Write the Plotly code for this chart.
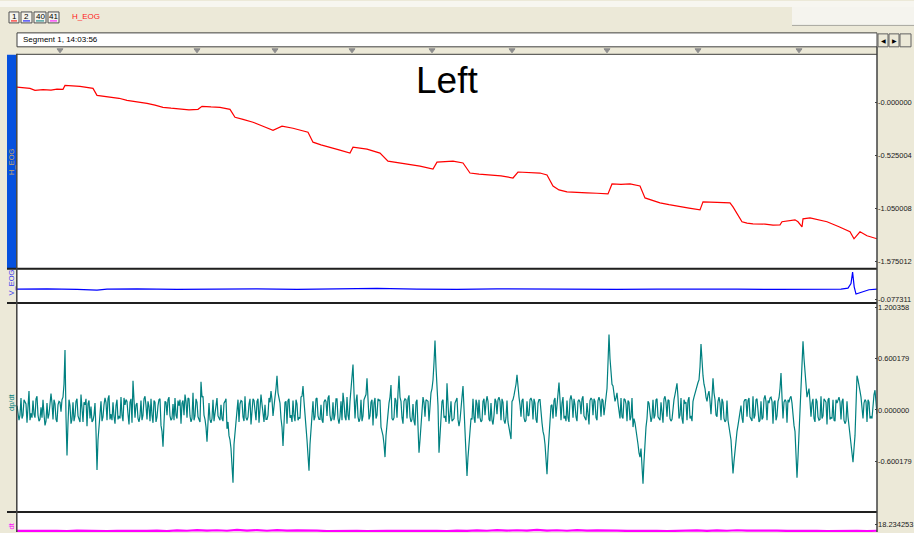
import numpy as np
import plotly.graph_objects as go

W, H = 914, 533
def px(x): return x / W
def py(y): return 1 - y / H

# ---------------- data ----------------
h_t = [0.0,0.65,0.9,1.3,1.7,2.0,2.3,2.4,3.15,3.8, 4.0,4.8,5.1,5.5,6.0,6.5,6.9,7.3,7.7,8.15,
       8.6,9.05,9.25,9.7,10.15,10.65,10.9,11.3,11.8,12.3, 12.8,13.25,13.8,14.55,14.8,15.2,15.65,16.1,16.65,16.8,
       17.5,18.15,18.55,19.15,19.6,20.15,20.8,21.0,21.4,21.8, 22.3,22.65,23.1,23.65,24.2,24.8,25.05,26.15,26.5,26.8,
       27.1,27.5,28.0,28.5,29.0,29.55,29.75,30.2,30.65,31.15, 31.4,31.8,32.15,32.6,33.15,33.6,34.15,34.3,35.0,35.65,
       35.8,36.25,36.5,36.8,37.4,37.8,38.15,38.25,38.9,39.05, 39.25,39.3,39.65,40.1,40.5,41.1,41.65,41.85,42.15,42.5,
       43.0]
h_v = [0.151,0.138,0.118,0.125,0.120,0.130,0.128,0.167,0.157,0.138, 0.069,0.049,0.040,0.020,0.008,-0.010,-0.028,-0.049,-0.058,-0.069,
       -0.074,-0.069,-0.039,-0.045,-0.049,-0.069,-0.148,-0.168,-0.197,-0.236, -0.276,-0.236,-0.256,-0.295,-0.394,-0.420,-0.443,-0.470,-0.502,-0.443,
       -0.463,-0.502,-0.581,-0.600,-0.611,-0.630,-0.660,-0.591,-0.586,-0.581, -0.600,-0.699,-0.709,-0.719,-0.728,-0.748,-0.689,-0.699,-0.719,-0.827,
       -0.866,-0.886,-0.893,-0.896,-0.899,-0.906,-0.807,-0.812,-0.807,-0.827, -0.945,-0.975,-0.994,-1.012,-1.034,-1.046,-1.063,-0.984,-0.990,-0.994,
       -1.034,-1.181,-1.195,-1.201,-1.204,-1.214,-1.211,-1.181,-1.162,-1.181, -1.231,-1.152,-1.142,-1.160,-1.181,-1.230,-1.280,-1.349,-1.280,-1.319,
       -1.349]

v_t = [0,1.5,3,4,4.5,6,8,10,12,14,16,18,20,22,24,26,28,30,32,34,36,38,40,41.2,41.55,41.7,41.78,41.86,41.95,42.05,42.3,42.6,43]
v_v = [-0.047,-0.046,-0.048,-0.050,-0.047,-0.046,-0.048,-0.047,-0.046,-0.048,-0.047,-0.045,-0.047,-0.048,-0.046,-0.047,-0.046,-0.048,-0.047,-0.046,
       -0.047,-0.048,-0.046,-0.047,-0.044,-0.030,0.004,-0.040,-0.062,-0.060,-0.055,-0.049,-0.047]

# dp/dt samples every 0.1 s ...
dpdt_main = [
 .05,-.12,.14,-.06,.09,-.15,.22,-.04,.11,-.09,
 .16,-.13,.03,.12,-.18,.08,-.05,.19,-.11,.07,
 -.14,.10,-.02,.15,.70,-.53,.12,-.16,.09,-.07,
 .13,-.10,.18,-.14,.06,-.19,.11,.04,-.12,.08,
 -.70,-.20,.10,-.08,.14,-.12,.17,-.05,.09,-.16,
 .12,-.07,.15,-.13,.06,.10,-.17,.13,.34,-.09,
 .08,-.14,.11,-.06,.16,-.11,.04,.13,-.15,.09,
 -.08,.12,-.18,-.43,.10,-.06,.15,-.12,.07,.14,
 -.10,.05,-.16,.11,.18,-.09,.13,-.14,.20,-.07,
 .09,-.12,.33,.16,-.11,-.37,.08,-.15,.12,-.05,
 .14,-.10,.06,-.13,.10,-.22,-.30,-.45,-.85,-.25,
 .05,-.14,.11,-.08,.16,-.12,.07,-.17,.13,-.04,
 .10,-.15,.18,-.09,.06,-.11,.14,.22,-.07,.15,
 .40,.12,-.10,-.42,.09,-.16,.13,-.06,.11,-.13,
 .07,-.09,.15,.28,-.12,-.35,-.71,-.20,.10,-.08,
 .14,-.11,.06,-.15,.12,-.07,.17,-.13,.09,-.05,
 .13,-.16,.10,.20,-.08,.15,-.12,.25,.53,-.10,
 .18,-.14,.12,-.07,.16,.37,-.11,.09,-.18,.14,
 -.06,.11,-.20,-.30,-.55,-.15,.08,.29,-.12,.14,
 -.09,.40,.10,-.16,.13,-.10,.17,-.14,.07,-.18,
 .12,-.50,-.20,.15,-.08,.11,-.13,.20,.35,.81,
 .30,-.50,-.10,.12,-.07,.31,-.16,.10,-.12,.08,
 .14,-.19,.09,.28,-.30,-.77,-.35,-.10,.13,-.15,
 .07,.12,-.14,.10,-.06,.16,-.11,.08,-.17,.13,
 -.05,.15,-.12,.09,-.16,.11,-.20,-.34,.12,.22,
 .41,.15,-.08,.13,-.14,.10,-.06,.14,-.11,.08,
 -.15,.12,-.09,-.25,-.40,-.75,-.28,.05,-.10,.14,
 .09,.32,-.12,.15,-.07,.11,-.14,.17,-.09,.06,
 -.13,.12,-.05,.16,-.11,.08,-.17,.14,-.06,.10,
 -.12,.15,-.08,.11,.05,.25,.88,.40,.28,.10,
 .20,-.06,.14,-.10,.12,-.13,.09,-.08,-.20,-.15,
 -.30,-.50,-.45,-.86,-.30,-.10,.08,-.14,.12,-.06,
 .13,-.11,.09,-.15,.16,-.08,.11,-.13,.07,.18,
 .31,-.10,.14,-.16,.08,-.12,.15,-.07,.10,.20,
 .30,.35,.77,.40,.25,.10,.22,-.05,.37,.12,
 -.08,.15,-.12,.09,-.14,.11,-.20,-.35,-.74,-.45,
 -.25,-.10,.05,-.15,.12,-.08,.14,-.11,.16,-.06,
 .13,-.14,.10,-.09,.17,-.12,.08,.15,-.16,.11,
 -.07,.14,.43,-.10,.12,-.15,.09,.16,-.11,-.25,
 -.79,-.30,.30,.80,.45,.15,.25,-.08,.13,-.14,
 .10,-.12,.16,-.07,.11,-.17,.14,-.09,.12,-.13,
 .08,.15,-.11,.13,-.16,.10,-.20,-.35,-.61,-.30,
 .40,.30,.15,-.10,.12,-.14,.09,-.08,.11,.23,
 -.05]
# ... and the samples half-way between them
dpdt_half = [
 -.08,-.06,-.10,.12,.07,.10,-.12,-.09,-.05,.13,
 -.06,-.11,-.09,-.05,-.13,-.10,.07,.08,.12,-.11,
 .06,.09,.12,.30,-.08,-.15,.05,-.11,-.13,.10,
 -.07,-.14,-.05,.09,.13,.07,-.10,-.14,-.06,-.25,
 -.35,-.08,-.13,.06,.09,.13,-.11,-.12,-.08,.05,
 -.11,-.10,-.06,.14,.12,-.05,.09,-.15,.12,.06,
 -.10,-.07,-.12,.13,.05,.10,-.13,-.06,.11,-.14,
 .05,.13,-.25,-.15,.09,.12,-.07,-.10,-.12,-.06,
 .11,.12,.08,-.06,.10,.14,-.07,-.10,-.12,.13,
 -.08,-.14,.15,-.06,-.20,-.10,-.11,-.10,-.13,.09,
 -.07,-.12,-.10,.08,.13,-.14,-.35,-.60,-.40,-.08,
 .12,.07,.10,-.13,-.09,-.08,.13,.06,.11,-.12,
 .13,.08,.07,-.14,-.11,-.06,.09,.12,.10,.25,
 .20,.08,-.20,-.15,.10,.11,-.09,-.14,-.07,.12,
 -.12,-.10,.16,.10,-.20,-.50,-.40,.05,-.12,.13,
 -.07,-.11,-.12,.09,.10,.14,-.06,-.10,-.12,.13,
 -.10,-.08,-.12,.09,-.12,-.06,.10,.35,.20,.10,
 -.08,-.10,-.13,.12,.18,.10,-.07,.12,.08,-.10,
 .13,.12,-.25,-.40,-.30,-.05,.15,-.10,-.09,.11,
 .20,.15,-.09,.10,.12,.13,-.08,-.11,-.13,.09,
 -.20,-.35,-.05,.09,.12,.10,.06,.25,.55,.50,
 .05,-.25,.10,-.09,-.14,.10,-.06,-.13,-.10,.12,
 -.11,-.12,.15,.05,-.50,-.55,-.20,-.11,-.09,.12,
 -.10,-.09,-.12,.13,.08,.10,-.13,-.12,-.06,.10,
 .12,.10,.13,-.12,-.09,-.14,-.25,.10,.17,.30,
 .25,.06,.11,-.09,-.12,-.07,.12,.10,.13,-.11,
 .08,.12,-.15,-.30,-.55,-.50,-.10,.06,.11,-.08,
 .18,.12,.08,-.10,-.13,-.09,.12,.11,.13,-.08,
 .10,.09,.13,-.07,-.12,-.10,.11,.12,.13,-.09,
 .11,.10,.13,-.06,.15,.55,.60,.30,.18,.14,
 .08,-.10,-.08,.13,.07,.11,-.12,.14,-.10,-.22,
 -.40,-.55,-.65,-.60,-.20,.10,-.06,-.09,-.10,.12,
 -.08,-.12,-.10,.13,.09,.12,-.10,-.11,.12,.25,
 .15,-.06,-.10,.12,.09,.11,-.10,-.13,.15,.25,
 .32,.50,.55,.30,.15,.18,.10,.15,.20,-.06,
 .10,.08,.13,-.10,-.12,-.12,-.28,-.55,-.60,-.35,
 -.18,-.08,-.09,.10,.12,.11,-.08,-.13,-.10,.12,
 -.08,-.12,-.11,.13,.10,.11,.14,.10,.09,-.12,
 .10,.25,.15,.09,.10,.12,.14,.08,-.18,-.50,
 -.55,-.05,.55,.60,.30,.20,.10,.08,-.10,.13,
 -.08,-.11,-.10,.13,.09,.12,-.11,-.10,-.12,.12,
 .12,.09,.10,-.12,-.13,-.08,-.25,-.50,-.45,.05,
 .35,.22,.05,.08,.10,.12,-.10,-.10,.18,.10]
dpdt_v = np.empty(len(dpdt_main) + len(dpdt_half))
dpdt_v[0::2] = dpdt_main
dpdt_v[1::2] = dpdt_half
dpdt_t = np.round(np.arange(len(dpdt_v)) * 0.05, 3)

dt_v = [11.4,11.2,11.6,11.3,11.5,11.1,11.6,11.3,11.7,11.2,
        11.5,11.3,11.8,11.4,11.6,11.2,11.9,11.5,12.2,11.6,
        12.0,11.5,12.3,11.7,12.1,11.5,12.2,11.6,11.9,11.4,
        11.6,11.2,11.5,11.3,11.5,11.2,11.6,11.3,11.4,11.2,
        11.5,11.3,11.5,11.2,11.7,11.4,11.9,11.5,12.2,11.6,
        12.0,11.6,12.3,11.7,12.0,11.5,12.1,11.6,11.9,11.4,
        11.6,11.3,11.5,11.2,11.5,11.2,11.6,11.4,11.8,11.4,
        11.9,11.5,12.0,11.6,11.8,11.4,11.7,11.3,11.6,11.2,
        11.5,11.2,11.5,11.3,11.4,11.2,11.5]
dt_t = np.round(np.arange(len(dt_v)) * 0.5, 2)

marker_t = [2.15, 9.0, 12.9, 16.75, 20.75, 24.75, 29.5, 34.05, 39.1]

h_ticks = [0.0, -0.525004, -1.050008, -1.575012]
h_ticktext = ["-0.000000", "-0.525004", "-1.050008", "-1.575012"]
v_ticks = [-0.077311]
v_ticktext = ["-0.077311"]
d_ticks = [1.200358, 0.600179, 0.0, -0.600179]
d_ticktext = ["1.200358", "0.600179", "0.000000", "-0.600179"]
t_ticks = [18.234253]
t_ticktext = ["18.234253"]

buttons = ["1", "2", "40", "41"]
button_colors = ["#FF0000", "#0000FF", "#008080", "#FF00FF"]
channel_names = ["H_EOG", "V_EOG", "dp/dt", "dt"]

# ---------------- figure ----------------
fig = go.Figure()
fig.add_trace(go.Scatter(x=h_t, y=h_v, mode="lines", line=dict(color="#FF0000", width=1.2), xaxis="x", yaxis="y", hoverinfo="skip"))
fig.add_trace(go.Scatter(x=v_t, y=v_v, mode="lines", line=dict(color="#0000FF", width=1.2), xaxis="x2", yaxis="y2", hoverinfo="skip"))
fig.add_trace(go.Scatter(x=dpdt_t, y=dpdt_v, mode="lines", line=dict(color="#008080", width=1.2), xaxis="x3", yaxis="y3", hoverinfo="skip"))
fig.add_trace(go.Scatter(x=dt_t, y=dt_v, mode="lines", line=dict(color="#FF00FF", width=2.2), xaxis="x4", yaxis="y4", hoverinfo="skip"))

xdom = [px(17), px(877)]
xcommon = dict(domain=xdom, range=[0, 43], showticklabels=False, showgrid=False, zeroline=False, ticks="", showline=False)
tickfont = dict(family="Liberation Sans, Arial", size=7.5, color="#202020")
ycommon = dict(side="right", showgrid=False, zeroline=False, ticks="inside", ticklen=2, tickcolor="#404040",
               tickfont=tickfont, showline=False, tickmode="array")

layout = dict(
    width=W, height=H, margin=dict(l=0, r=0, t=0, b=0),
    paper_bgcolor="#ECE9D8", plot_bgcolor="#FFFFFF", showlegend=False,
    xaxis=dict(**xcommon, anchor="y"),
    xaxis2=dict(**xcommon, anchor="y2", matches="x"),
    xaxis3=dict(**xcommon, anchor="y3", matches="x"),
    xaxis4=dict(**xcommon, anchor="y4", matches="x"),
    yaxis=dict(**ycommon, domain=[py(268), py(54)], range=[-1.638, 0.470], anchor="x", tickvals=h_ticks, ticktext=h_ticktext),
    yaxis2=dict(**ycommon, domain=[py(303), py(270)], range=[-0.0884, 0.0106], anchor="x2", tickvals=v_ticks, ticktext=v_ticktext),
    yaxis3=dict(**ycommon, domain=[py(512), py(304)], range=[-1.180, 1.238], anchor="x3", tickvals=d_ticks, ticktext=d_ticktext),
    yaxis4=dict(**ycommon, domain=[py(533), py(514)], range=[10.234, 29.234], anchor="x4", tickvals=t_ticks, ticktext=t_ticktext),
)
fig.update_layout(**layout)

shapes = []
ann = []
def rect(x0, y0, x1, y1, fill, line="rgba(0,0,0,0)", lw=0, layer="below"):
    shapes.append(dict(type="rect", xref="paper", yref="paper", x0=px(x0), x1=px(x1), y0=py(y1), y1=py(y0),
                       fillcolor=fill, line=dict(color=line, width=lw), layer=layer))
def hline(x0, x1, y, color, w):
    shapes.append(dict(type="line", xref="paper", yref="paper", x0=px(x0), x1=px(x1), y0=py(y), y1=py(y),
                       line=dict(color=color, width=w), layer="above"))
def vline(x, y0, y1, color, w):
    shapes.append(dict(type="line", xref="paper", yref="paper", x0=px(x), x1=px(x), y0=py(y0), y1=py(y1),
                       line=dict(color=color, width=w), layer="above"))
def text(x, y, s, size=8, color="#000000", angle=0, xanchor="left", family="Liberation Sans, Arial"):
    ann.append(dict(x=px(x), y=py(y), xref="paper", yref="paper", text=s, showarrow=False, textangle=angle,
                    font=dict(family=family, size=size, color=color), xanchor=xanchor, yanchor="middle"))

# top strip
rect(0, 0, 914, 6, "#F7F6F0")
rect(792, 6, 914, 24, "#F5F4EE")
hline(792, 914, 24.5, "#A8A8A0", 1)

# toolbar buttons
bx = [(9, 19), (21, 32), (34, 46), (48, 59)]
for (a, b), lab, c in zip(bx, buttons, button_colors):
    rect(a, 11, b, 22, "#F4F3EC", "#505050", 1, layer="above")
    text((a + b) / 2, 15.5, lab, 8, "#000000", xanchor="center")
    hline(a + 2, b - 2, 20, c, 1)
text(70, 15.5, channel_names[0], 8, "#FF2020")

# segment box and nav buttons
rect(17, 32, 877, 46, "#FFFFFF", "#404040", 1, layer="above")
text(21, 39, "Segment 1, 14:03:56", 8, "#000000")
for a, b, s in [(878, 888, "◀"), (889, 899, "▶"), (900, 911, "")]:
    rect(a, 33, b, 46, "#ECE9D8", "#606060", 1, layer="above")
    if s:
        text((a + b) / 2, 39.5, s, 6, "#000000", xanchor="center", family="DejaVu Sans")

# event markers (time based)
for t in marker_t:
    shapes.append(dict(type="path", xref="x", yref="paper",
                       path=f"M {t-0.15},{py(48)} L {t+0.15},{py(48)} L {t},{py(52)} Z",
                       fillcolor="#8C8C8C", line=dict(color="#8C8C8C", width=1), layer="above"))

# channel label column
rect(7, 54, 16, 268, "#0651DE")
text(11.5, 162, channel_names[0], 7.5, "#C8A468", angle=-90, xanchor="center")
text(11.5, 283, channel_names[1], 7.5, "#3838F0", angle=-90, xanchor="center")
text(11.5, 403, channel_names[2], 7.5, "#008080", angle=-90, xanchor="center")
text(11.5, 527, channel_names[3], 7.5, "#FF00FF", angle=-90, xanchor="center")

# frame lines
hline(17, 877, 53.5, "#404040", 1)
hline(7, 877, 268.8, "#202020", 2)
hline(7, 877, 303.2, "#202020", 2)
hline(7, 877, 513, "#202020", 2)
vline(16.8, 53, 533, "#404040", 1.5)
vline(877, 46, 533, "#404040", 1.5)

# big label
text(447, 80, "Left", 37, "#000000", xanchor="center")

fig.update_layout(shapes=shapes, annotations=ann)
fig.write_html("out.html", config={"displayModeBar": False},
               post_script="document.body.style.margin='0';document.body.style.overflow='hidden';")
